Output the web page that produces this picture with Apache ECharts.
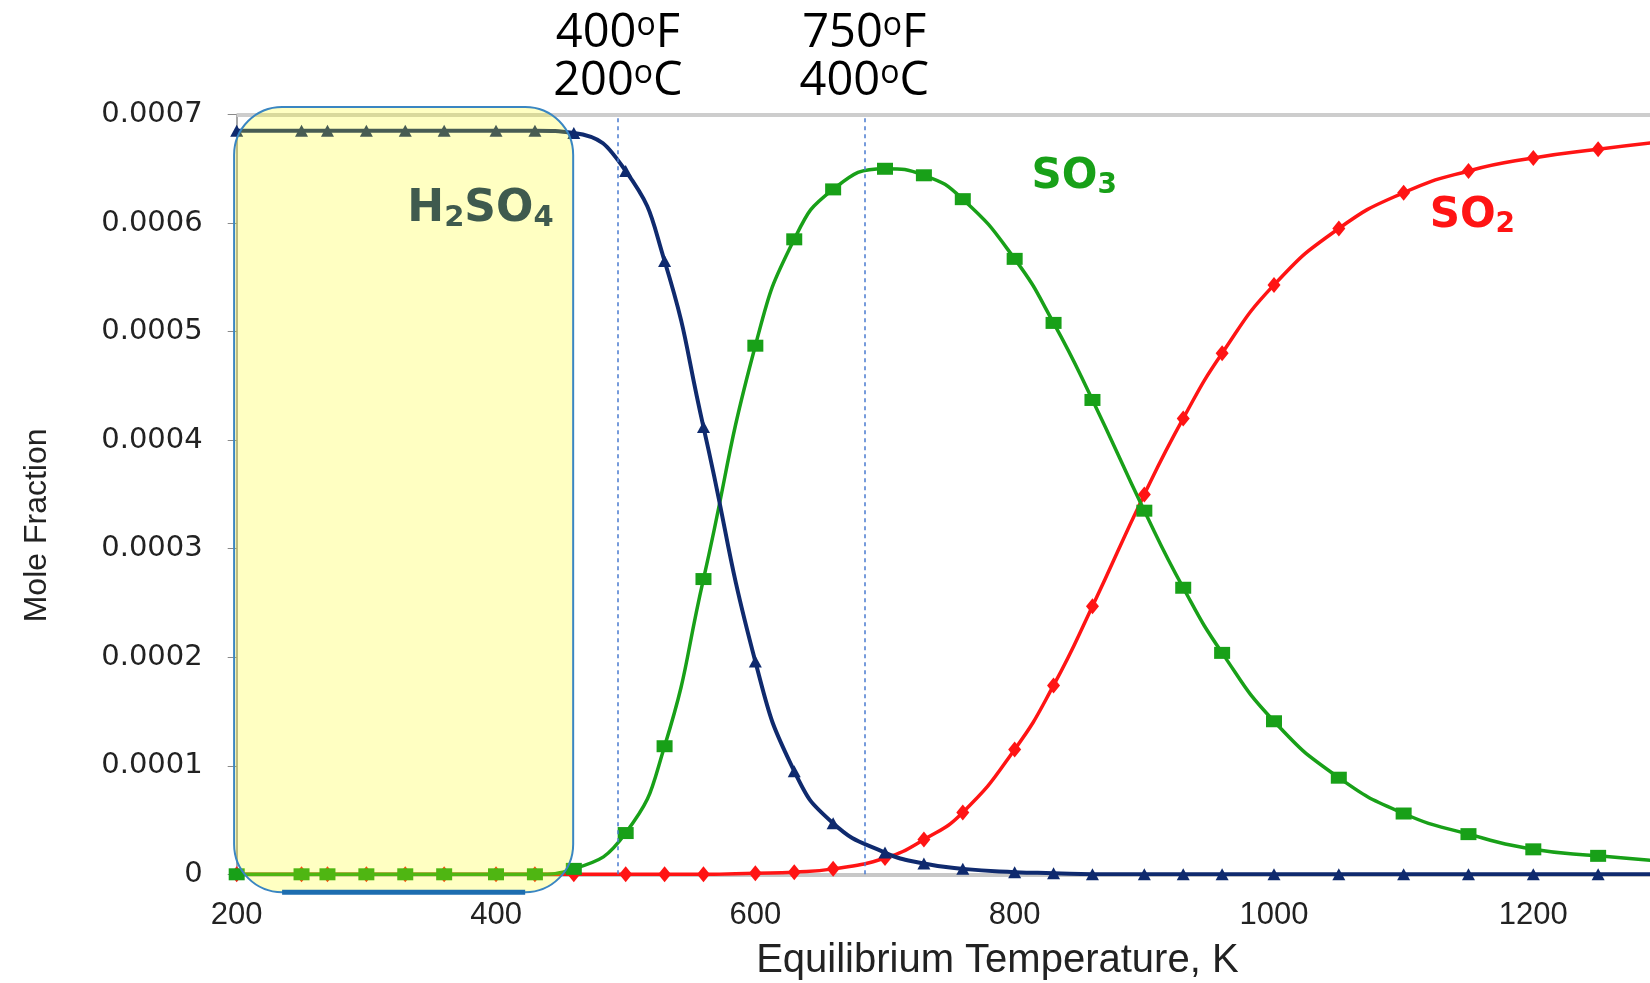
<!DOCTYPE html>
<html>
<head>
<meta charset="utf-8">
<script src="https://cdn.jsdelivr.net/npm/echarts@6/dist/echarts.min.js"></script>
<style>
  html, body { margin: 0; padding: 0; background: #fff; }
  #chart { width: 1650px; height: 983px; }
</style>
</head>
<body>
<div id="chart"></div>
<script>
// equilibrium temperature, K
var temps = [200, 250, 270, 300, 330, 360, 400, 430, 460, 500, 530, 560, 600, 630, 660, 700,
    730, 760, 800, 830, 860, 900, 930, 960, 1000, 1050, 1100, 1150, 1200, 1250, 1300];
// mole fraction, in units of 1e-4
var h2so4 = [6.85, 6.85, 6.85, 6.85, 6.85, 6.85, 6.85, 6.85, 6.83, 6.48, 5.65, 4.12, 1.96, 0.95, 0.47, 0.2,
    0.1, 0.05, 0.02, 0.01, 0, 0, 0, 0, 0, 0, 0, 0, 0, 0, 0];
var so3 = [0, 0, 0, 0, 0, 0, 0, 0, 0.05, 0.38, 1.18, 2.72, 4.87, 5.85, 6.31, 6.5,
    6.44, 6.22, 5.67, 5.08, 4.37, 3.35, 2.64, 2.04, 1.41, 0.89, 0.56, 0.37, 0.23, 0.17, 0.12];
var so2 = [0, 0, 0, 0, 0, 0, 0, 0, 0, 0, 0, 0, 0.01, 0.02, 0.05, 0.15,
    0.32, 0.57, 1.15, 1.74, 2.47, 3.5, 4.2, 4.8, 5.43, 5.95, 6.28, 6.48, 6.6, 6.68, 6.75];

var xTicks = [200, 400, 600, 800, 1000, 1200];
// reference temperatures (K) marked with dashed lines
var refTemps = [494, 684];
var refLabels = [['400', 'F', '200', 'C'], ['750', 'F', '400', 'C']];
// H2SO4 highlight box: [x0, y0, x1, y1]
var box = [198, 7.07, 459.5, -0.165];
var boxLabelAt = [388, 6.12];
var so3LabelAt = [846, 6.42];
var so2LabelAt = [1153, 6.06];

function pairs(vals) {
    return temps.map(function (t, i) { return [t, vals[i]]; });
}

var chart = echarts.init(document.getElementById('chart'));

var degRich = {
    t: { fontSize: 47, fontFamily: 'Open Sans', color: '#000', lineHeight: 48 },
    s: { fontSize: 32, fontFamily: 'Open Sans', color: '#000', lineHeight: 14, verticalAlign: 'top' }
};

var markLines = refTemps.map(function (t, i) {
    var l = refLabels[i];
    return {
        xAxis: t,
        lineStyle: { type: [4, 4], color: '#4a7bd0', width: 1.5 },
        label: {
            show: true,
            position: 'end',
            distance: 9,
            formatter: '{t|' + l[0] + '}{s|o}{t|' + l[1] + '}\n{t|' + l[2] + '}{s|o}{t|' + l[3] + '}',
            rich: degRich
        }
    };
});
markLines.push({
    yAxis: 7,
    lineStyle: { type: 'solid', color: '#cdcdcd', width: 4 },
    label: { show: false }
});

function subRich(color, size) {
    return {
        a: { fontSize: size, fontWeight: 'bold', fontFamily: 'DejaVu Sans', color: color, lineHeight: size + 2 },
        b: { fontSize: Math.round(size * 0.66), fontWeight: 'bold', fontFamily: 'DejaVu Sans', color: color,
            lineHeight: Math.round(size * 0.72), verticalAlign: 'bottom' }
    };
}

var option = {
    animation: false,
    backgroundColor: '#fff',
    grid: { left: 236.7, right: 0, top: 114.5, bottom: 108.7, outerBoundsMode: 'none' },
    xAxis: {
        type: 'value',
        min: 200,
        max: 1290,
        interval: 200,
        name: 'Equilibrium Temperature, K',
        nameLocation: 'middle',
        nameGap: 67,
        nameTextStyle: { fontSize: 40, fontFamily: 'Liberation Sans', color: '#222', padding: [0, 0, 0, 108] },
        axisLine: { show: true, lineStyle: { color: '#c8c8c8', width: 4 } },
        axisTick: { show: false },
        axisLabel: {
            fontSize: 31, fontFamily: 'Liberation Sans', color: '#222', margin: 26,
            showMaxLabel: false,
            formatter: function (v) { return xTicks.indexOf(v) >= 0 ? String(v) : ''; }
        },
        splitLine: { show: false }
    },
    yAxis: {
        type: 'value',
        min: 0,
        max: 7,
        interval: 1,
        name: 'Mole Fraction',
        nameLocation: 'middle',
        nameRotate: 90,
        nameGap: 184,
        nameTextStyle: { fontSize: 32, fontFamily: 'Liberation Sans', color: '#222', padding: [0, 62, 0, 0] },
        axisLine: { show: true, lineStyle: { color: '#8a8a8a', width: 1.5 } },
        axisTick: { show: true, length: 9, lineStyle: { color: '#8a8a8a' } },
        axisLabel: {
            fontSize: 29, fontFamily: 'DejaVu Sans', color: '#222', margin: 34,
            formatter: function (v) { return v === 0 ? '0' : (v * 1e-4).toFixed(4); }
        },
        splitLine: { show: false }
    },
    series: [
        {
            name: 'SO2',
            type: 'line',
            data: pairs(so2),
            smooth: 0.5,
            symbol: 'diamond',
            symbolSize: [13, 16],
            lineStyle: { color: '#ff1414', width: 3.5 },
            itemStyle: { color: '#ff1414' },
            markLine: { silent: true, symbol: ['none', 'none'], data: markLines },
            markPoint: {
                symbol: 'circle',
                symbolSize: 0,
                data: [{ coord: so2LabelAt }],
                label: { show: true, position: 'inside', formatter: '{a|SO}{b|2}', rich: subRich('#ff1414', 42) }
            }
        },
        {
            name: 'SO3',
            type: 'line',
            data: pairs(so3),
            smooth: 0.5,
            symbol: 'rect',
            symbolSize: [16, 12],
            lineStyle: { color: '#18a018', width: 3.5 },
            itemStyle: { color: '#18a018' },
            markPoint: {
                symbol: 'circle',
                symbolSize: 0,
                data: [{ coord: so3LabelAt }],
                label: { show: true, position: 'inside', formatter: '{a|SO}{b|3}', rich: subRich('#18a018', 42) }
            }
        },
        {
            name: 'H2SO4',
            type: 'line',
            data: pairs(h2so4),
            smooth: 0.5,
            symbol: 'triangle',
            symbolSize: [13, 12],
            lineStyle: { color: '#0f2a6e', width: 4 },
            itemStyle: { color: '#0f2a6e' }
        },
        {
            // translucent highlight box over the H2SO4 region
            type: 'custom',
            z: 5,
            clip: false,
            silent: true,
            data: [box],
            renderItem: function (params, api) {
                var p0 = api.coord([api.value(0), api.value(1)]);
                var p1 = api.coord([api.value(2), api.value(3)]);
                var r = 48;
                var lp = api.coord(boxLabelAt);
                var rich = subRich('#3f5a4e', 44);
                rich.a.fill = rich.a.color;
                rich.b.fill = rich.b.color;
                return {
                    type: 'group',
                    children: [
                        {
                            type: 'rect',
                            shape: { x: p0[0], y: p0[1], width: p1[0] - p0[0], height: p1[1] - p0[1], r: r },
                            style: { fill: 'rgba(255,255,0,0.24)', stroke: '#3a86c2', lineWidth: 2 }
                        },
                        {
                            type: 'line',
                            shape: { x1: p0[0] + r, y1: p1[1], x2: p1[0] - r, y2: p1[1] },
                            style: { stroke: '#1d6db0', lineWidth: 5 }
                        },
                        {
                            type: 'text',
                            x: lp[0],
                            y: lp[1],
                            style: {
                                text: '{a|H}{b|2}{a|SO}{b|4}',
                                align: 'center',
                                verticalAlign: 'middle',
                                rich: rich
                            }
                        }
                    ]
                };
            }
        }
    ]
};

chart.setOption(option);
</script>
</body>
</html>
